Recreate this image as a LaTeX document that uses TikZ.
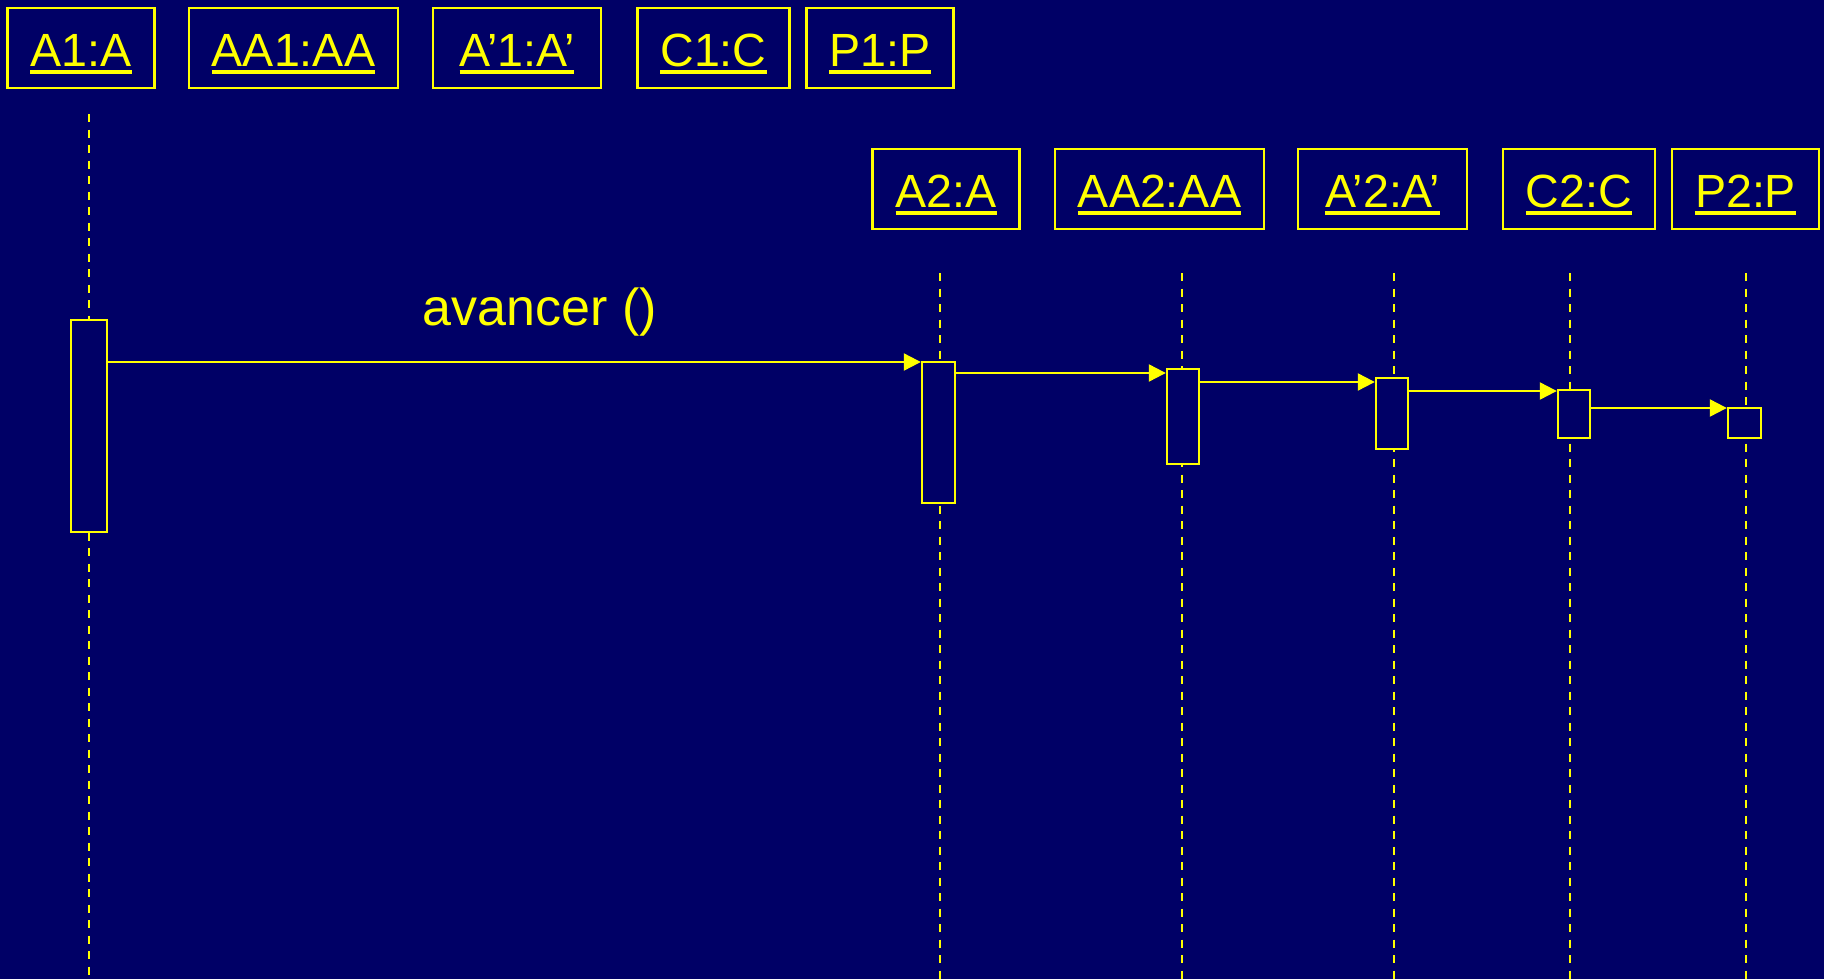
\documentclass[tikz,border=0pt]{standalone}
\usepackage{fontspec}
\setmainfont{Liberation Sans}
\usetikzlibrary{arrows.meta}
\definecolor{slidebg}{RGB}{0,0,102}
\definecolor{umlyellow}{RGB}{255,255,0}
\newcommand{\objname}[1]{\setbox0\hbox{#1}\rlap{\rule[-3.67pt]{\wd0}{2pt}}\box0}
\newcommand{\objpt}[4][]{\node[objbox,#1] at (#2) (#3) {\objname{#4}}}
\newcommand{\actpt}[4]{\node[actbox,minimum width=#3,minimum height=#4] at (#1) (#2) {}}

\begin{document}
\begin{tikzpicture}[x=0.5pt,y=-0.5pt,
  objbox/.style={draw=umlyellow,line width=1.2pt,text=umlyellow,inner xsep=11.5pt,inner ysep=0pt,
    minimum height=40pt,text height=18.6pt,text depth=0pt,font=\fontsize{23.3pt}{28pt}\selectfont},
  actbox/.style={draw=umlyellow,fill=slidebg,line width=1.2pt,inner sep=0pt},
  lifeline/.style={umlyellow,line width=1pt,dash pattern=on 4pt off 3.75pt},
  msg/.style={umlyellow,line width=1.1pt,-{Triangle[length=8.5pt,width=8.5pt]}},
  msglabel/.style={text=umlyellow,inner sep=0pt,font=\fontsize{26pt}{31pt}\selectfont}]
  \useasboundingbox (0,0) rectangle (1824,979);
  \fill[slidebg] (0,0) rectangle (1824,979);
  \objpt{81,48}{A1}{A1:A};
  \objpt{293.5,48}{AA1}{AA1:AA};
  \objpt[minimum width=84pt]{517,48}{Ap1}{A’1:A’};
  \objpt{713.5,48}{C1}{C1:C};
  \objpt{880,48}{P1}{P1:P};
  \objpt{946,189}{A2}{A2:A};
  \objpt{1159.5,189}{AA2}{AA2:AA};
  \objpt[minimum width=84.5pt]{1382.5,189}{Ap2}{A’2:A’};
  \objpt{1579,189}{C2}{C2:C};
  \objpt{1745.5,189}{P2}{P2:P};
  \foreach \xx/\ytop in {88.5/114,940/273,1182/273,1394/273,1570/273,1746/273}
    \draw[lifeline] (\xx,\ytop) -- (\xx,979);
  \actpt{89,426}{actA1}{18pt}{106pt};
  \actpt{938.5,432.5}{actA2}{16.5pt}{70.5pt};
  \actpt{1183,416.5}{actAA2}{16pt}{47.5pt};
  \actpt{1392,413.5}{actAp2}{16pt}{35.5pt};
  \actpt{1574,414}{actC2}{16pt}{24pt};
  \actpt{1744.5,423}{actP2}{16.5pt}{15pt};
  \foreach \src/\dst/\yy in {actA1/actA2/362,actA2/actAA2/373,actAA2/actAp2/382,actAp2/actC2/391,actC2/actP2/408}
    \draw[msg] (\src.east |- 0,\yy) -- (\dst.west |- 0,\yy);
  \node[msglabel,anchor=base] (avancer) at (540,325) {avancer ()};
\end{tikzpicture}
\end{document}
